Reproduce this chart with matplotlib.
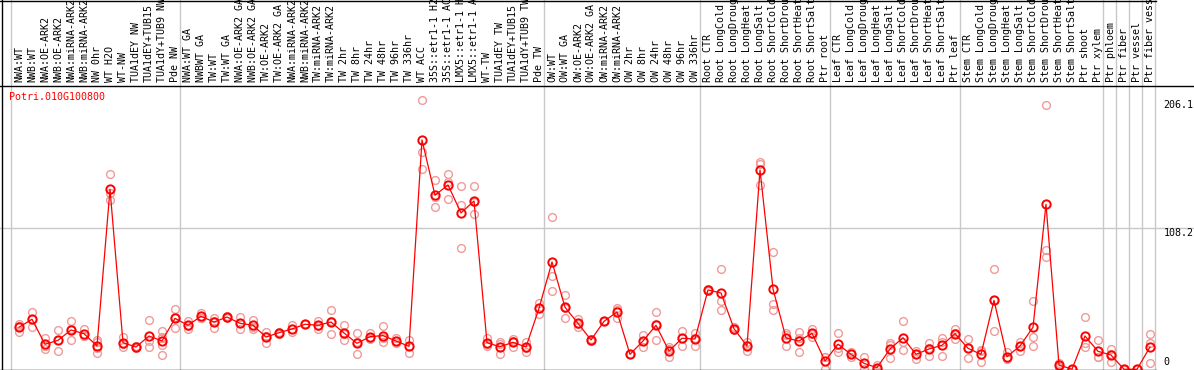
import matplotlib
matplotlib.use("Agg")
import matplotlib.pyplot as plt
from matplotlib.lines import Line2D
from matplotlib.transforms import blended_transform_factory

plt.rcParams['font.family'] = ['DejaVu Sans Mono']

gene = "Potri.010G100800"

labels = [
    "NWA:WT", "NWB:WT", "NWA:OE-ARK2", "NWB:OE-ARK2", "NWA:miRNA-ARK2",
    "NWB:miRNA-ARK2", "NW 0hr", "WT H2O", "WT-NW", "TUA1dEY NW",
    "TUA1dEY+TUB15", "TUA1dY+TUB9 NW", "Pde NW",
    "NWA:WT GA", "NWBWT GA", "TW:WT", "TW:WT GA", "NWA:OE-ARK2 GA",
    "NWB:OE-ARK2 GA", "TW:OE-ARK2", "TW:OE-ARK2 GA", "NWA:miRNA-ARK2",
    "NWB:miRNA-ARK2", "TW:miRNA-ARK2", "TW:miRNA-ARK2", "TW 2hr", "TW 8hr",
    "TW 24hr", "TW 48hr", "TW 96hr", "TW 336hr", "WT ACC",
    "35S::etr1-1 H2", "35S::etr1-1 AC", "LMX5::etr1-1 H", "LMX5::etr1-1 A",
    "WT-TW", "TUA1dEY TW", "TUA1dEY+TUB15", "TUA1dY+TUB9 TW", "Pde TW",
    "OW:WT", "OW:WT GA", "OW:OE-ARK2", "OW:OE-ARK2 GA", "OW:miRNA-ARK2",
    "OW:miRNA-ARK2", "OW 2hr", "OW 8hr", "OW 24hr", "OW 48hr", "OW 96hr",
    "OW 336hr",
    "Root CTR", "Root LongCold", "Root LongDroug", "Root LongHeat",
    "Root LongSalt", "Root ShortCold", "Root ShortDrou", "Root ShortHeat",
    "Root ShortSalt", "Ptr root",
    "Leaf CTR", "Leaf LongCold", "Leaf LongDroug", "Leaf LongHeat",
    "Leaf LongSalt", "Leaf ShortCold", "Leaf ShortDrou", "Leaf ShortHeat",
    "Leaf ShortSalt", "Ptr leaf",
    "Stem CTR", "Stem LongCold", "Stem LongDroug", "Stem LongHeat",
    "Stem LongSalt", "Stem ShortCold", "Stem ShortDrou", "Stem ShortHeat",
    "Stem ShortSalt", "Ptr shoot", "Ptr xylem",
    "Ptr phloem", "Ptr fiber", "Ptr vessel", "Ptr fiber vess",
]

# first sample of each group (grey separators), last entry = end
group_starts = [0, 13, 41, 53, 63, 73, 84, 85, 86, 87, 88]

means = [
    32.3, 38.4, 19.3, 22.3, 30.2, 27.4, 18.0, 137.8, 20.5, 17.2,
    25.6, 21.8, 39.1, 33.8, 40.7, 36.3, 40.1, 35.3, 33.8, 24.8,
    28.1, 31.0, 34.6, 33.8, 36.3, 27.9, 20.0, 25.1, 25.9, 21.8,
    17.7, 175.5, 133.2, 141.1, 119.7, 128.8, 20.5, 17.4, 20.8, 17.2,
    46.8, 82.2, 47.6, 35.3, 22.6, 36.8, 44.0, 11.6, 21.8, 33.8,
    14.1, 23.9, 23.3, 60.8, 58.5, 31.2, 18.0, 152.5, 61.6, 24.1,
    21.8, 27.7, 6.5, 19.3, 11.6, 4.7, 1.4, 15.7, 24.3, 11.6,
    15.7, 18.5, 27.4, 16.2, 11.6, 52.9, 9.8, 18.0, 32.3, 126.3,
    3.4, 0.2, 25.6, 13.9, 11.1, 0.2, 0.2, 17.2,
]

reps = [
    [34.8, 28.9, 33.2], [44.0, 32.7, 38.5], [23.9, 15.9, 18.2], [30.2, 14.1, 22.6],
    [37.1, 22.6, 30.9], [31.0, 25.9, 25.3], [22.6, 12.4, 16.2, 20.8], [149.5, 129.6, 134.7],
    [25.1, 17.0, 19.4], [18.0, 16.2, 17.4], [37.8, 17.0, 22.0], [29.7, 25.1, 18.7, 11.1, 24.4],
    [46.0, 31.5, 39.8], [37.3, 31.2, 32.9], [43.0, 39.4, 39.7], [39.6, 32.0, 37.3],
    [40.7, 39.4, 40.2], [39.9, 30.7, 35.3], [37.8, 31.0, 32.6], [28.7, 20.0, 25.7],
    [28.9, 27.4, 28.0], [33.8, 28.4, 30.8], [34.5, 34.6, 34.7], [37.3, 31.2, 32.9],
    [45.3, 26.9, 36.7], [33.8, 22.6, 27.3], [27.7, 11.6, 20.7], [28.1, 23.1, 24.1],
    [33.0, 20.8, 23.9], [23.8, 20.0, 21.6], [22.6, 12.4, 18.1], [206.1, 166.1, 153.1],
    [144.9, 124.0, 131.6], [149.5, 130.1, 143.7], [140.1, 125.8, 92.9], [140.1, 118.7, 128.3],
    [23.8, 18.0, 19.7], [21.0, 11.6, 19.6], [22.0, 17.0, 23.4], [21.3, 13.6, 16.7],
    [51.1, 42.4, 46.9], [116.4, 71.5, 59.8], [56.7, 39.1, 47.0], [38.9, 32.2, 34.8],
    [23.1, 21.8, 22.9], [36.8, 36.8, 36.8], [47.0, 39.4, 45.6], [11.6, 11.6, 11.6],
    [26.1, 17.4, 21.9], [44.0, 22.3, 35.1], [17.4, 9.3, 15.6], [29.7, 18.0, 24.0],
    [27.7, 18.2, 24.0], [61.3, 60.0, 61.1], [76.6, 52.1, 45.5], [32.8, 30.2, 30.6],
    [21.0, 14.4, 18.6], [158.9, 157.1, 141.1], [89.6, 50.3, 45.5], [27.7, 18.2, 26.4],
    [28.4, 13.2, 23.8], [31.0, 25.1, 27.0], [9.8, 0.1, 9.6], [27.7, 13.6, 16.6],
    [13.1, 9.8, 11.9], [9.3, 0.1, 4.7], [3.2, 0.1, 0.9], [20.0, 8.5, 18.6],
    [36.8, 14.7, 21.4], [14.4, 8.3, 12.1], [20.0, 10.6, 16.5], [23.9, 10.6, 21.0],
    [30.7, 23.3, 28.2], [23.3, 8.5, 16.8], [14.9, 6.0, 13.9], [76.6, 29.2, 52.9],
    [13.1, 7.8, 8.5], [21.3, 14.4, 18.3], [52.1, 25.1, 18.2], [202.0, 91.4, 86.3],
    [5.2, 1.7, 3.3], [0.1, 0.1, 0.1], [39.9, 17.0, 19.9], [22.6, 9.8, 9.3],
    [15.7, 6.0, 11.6], [0.1, 0.1, 0.1], [0.1, 0.1, 0.1], [26.9, 20.0, 5.2],
]

y_ticks = [206.1, 108.2, 0]

W, H = 1194, 370
fig = plt.figure(figsize=(W / 100, H / 100), dpi=100)
# plot area: full width, from the label separator (85px) to the bottom
ax = fig.add_axes([0, 0, 1, (H - 85) / H])
ax.set_xlim(-19 / 13, (W - 19) / 13)
ax.set_ylim(-0.38, 217.5)
ax.set_axis_off()

x = list(range(len(labels)))

# replicates
for i, r in enumerate(reps):
    ax.plot([i] * len(r), r, 'o', ms=5.6, mfc='none', mec='#f09a9a', mew=1.0,
            clip_on=True, zorder=2)

ax.plot(x, means, '-', color='red', lw=0.9, zorder=3)
ax.plot(x, means, 'o', ms=6.0, mfc='none', mec='red', mew=1.4, zorder=4)

ax.axhline(108.2, color='#c8c8c8', lw=1, zorder=1)

# grey group separators spanning the whole height
trans = blended_transform_factory(ax.transData, fig.transFigure)
for s in group_starts:
    ax.plot([s - 8 / 13, s - 8 / 13], [0, 1], color='#c8c8c8', lw=1,
            transform=trans, clip_on=False, zorder=1)

# sample labels
for i, lab in enumerate(labels):
    ax.text(i, (H - 82) / H, lab, rotation=90, ha='center', va='bottom',
            fontsize=7.2, color='black', transform=trans, clip_on=False)

# value labels on the right
for v in y_ticks:
    if v == 0:
        ax.text(88.05, 5.6, "0", ha='left', va='center', fontsize=7.2)
    else:
        ax.text(88.05, v, f"{v}", ha='left', va='top', fontsize=7.2)

fig.text(9.3 / W, (H - 96.7) / H, gene, color='red', fontsize=7.2,
         ha='left', va='center')

# black frame lines
def hline(py, x0=0, x1=W):
    fig.add_artist(Line2D([x0 / W, x1 / W], [(H - py) / H] * 2, color='black', lw=1.0))

hline(0.5, 0, 1156)
hline(85.5)
hline(369.5, 0, 1156)
fig.add_artist(Line2D([1.5 / W] * 2, [0, 1], color='black', lw=1.0))

fig.savefig("out.png", dpi=100)
